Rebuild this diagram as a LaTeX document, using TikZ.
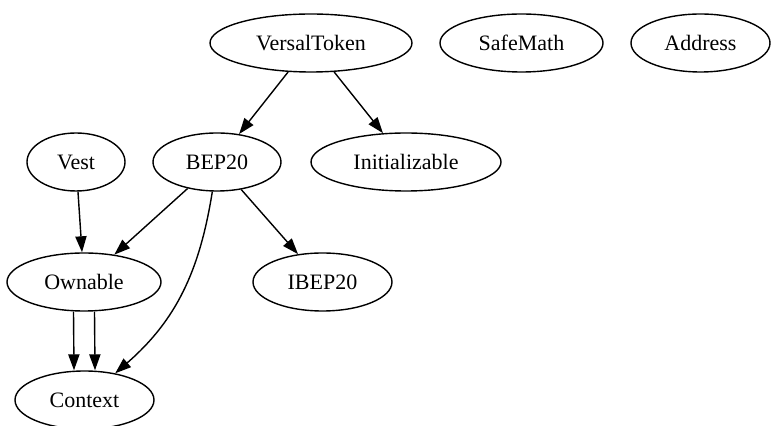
\documentclass[tikz,border=0pt]{standalone}
\usepackage{fontspec}
\setmainfont{Liberation Serif}
\usetikzlibrary{shapes.geometric,arrows.meta}

\begin{document}
\begin{tikzpicture}[x=0.5pt,y=0.5pt,
        cls/.style={draw, ellipse, line width=0.7pt, minimum height=29pt, inner sep=0pt, font=\fontsize{11}{13}\selectfont},
        dep/.style={line width=0.7pt, -{Triangle[length=8pt,width=5.6pt]}}]
        \useasboundingbox (0,0) rectangle (771,-426);
        \node[cls, minimum width=101pt] (vt) at (311,-43) {VersalToken};
        \node[cls, minimum width=81.5pt] (sm) at (521.5,-43) {SafeMath};
        \node[cls, minimum width=69.5pt] (addr) at (700.5,-43) {Address};
        \node[cls, minimum width=49pt] (vest) at (76,-162) {Vest};
        \node[cls, minimum width=64pt] (bep) at (217,-162) {BEP20};
        \node[cls, minimum width=95pt] (init) at (406,-162) {Initializable};
        \node[cls, minimum width=77pt] (own) at (84,-282) {Ownable};
        \node[cls, minimum width=69.5pt] (ibep) at (322.5,-282) {IBEP20};
        \node[cls, minimum width=69.5pt] (ctx) at (84.5,-400) {Context};
        \draw[dep] (vt) -- (bep);
        \draw[dep] (vt) -- (init);
        \draw[dep] (vest) -- (own);
        \draw[dep] (bep) -- (own);
        \draw[dep] (bep) -- (ibep);
        \draw[dep] (bep) to[out=-99, in=41] (ctx);
        \draw[dep] ([xshift=-5.25pt]own.south) -- ([xshift=-5.25pt]ctx.north);
        \draw[dep] ([xshift=5.25pt]own.south) -- ([xshift=5.25pt]ctx.north);
    \end{tikzpicture}
\end{document}
